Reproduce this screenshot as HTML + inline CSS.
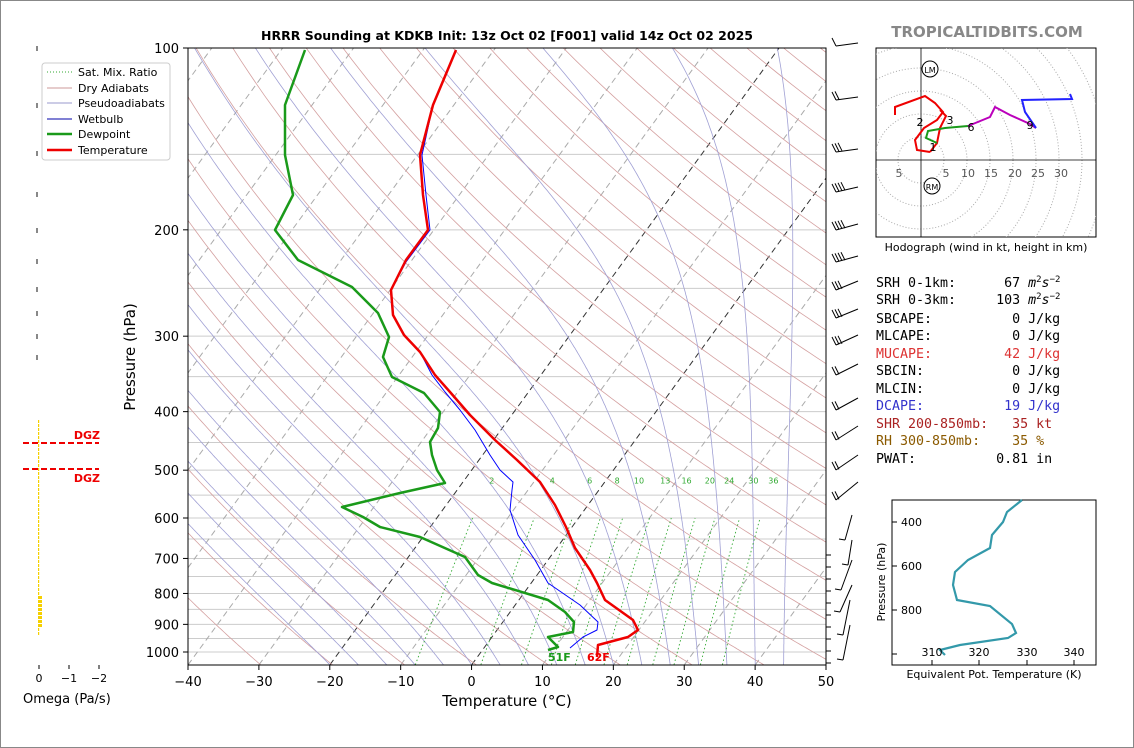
<!DOCTYPE html>
<html><head><meta charset="utf-8"><style>
body{margin:0;background:#fff;}
svg{display:block;font-family:"DejaVu Sans","Liberation Sans",sans-serif;}
.m text{white-space:pre;}
</style></head><body>
<svg id="s" width="1134" height="748" xmlns="http://www.w3.org/2000/svg" xml:space="preserve">
<rect x="0.5" y="0.5" width="1133" height="747" fill="#fff" stroke="#888"/>
<defs><clipPath id="c"><rect x="188" y="48" width="638" height="617"/></clipPath>
<clipPath id="h"><rect x="876" y="48" width="220" height="189"/></clipPath></defs>
<g id="bg" clip-path="url(#c)"></g>
<g id="fg" clip-path="url(#c)"></g>
<rect x="188" y="48" width="638" height="617" fill="none" stroke="#000"/>
<g id="ax" font-size="13"></g>
<text x="507" y="40" font-size="12.5" font-weight="bold" text-anchor="middle">HRRR Sounding at KDKB Init: 13z Oct 02 [F001] valid 14z Oct 02 2025</text>
<text x="507" y="706" font-size="15" text-anchor="middle">Temperature (°C)</text>
<text x="135" y="357" font-size="15" text-anchor="middle" transform="rotate(-90 135 357)">Pressure (hPa)</text>
<text x="548" y="661" font-size="11" fill="#1a9a1a" font-weight="bold">51F</text>
<text x="587" y="661" font-size="11" fill="#e00" font-weight="bold">62F</text>
<g font-size="11">
<rect x="42" y="63" width="128" height="97" fill="#fff" stroke="#ccc" rx="3"/>
<line x1="47" y1="72" x2="72" y2="72" stroke="#3a3" stroke-dasharray="1,2"/><text x="78" y="76">Sat. Mix. Ratio</text>
<line x1="47" y1="88" x2="72" y2="88" stroke="#c99"/><text x="78" y="92">Dry Adiabats</text>
<line x1="47" y1="103" x2="72" y2="103" stroke="#99c"/><text x="78" y="107">Pseudoadiabats</text>
<line x1="47" y1="119" x2="72" y2="119" stroke="#00a"/><text x="78" y="123">Wetbulb</text>
<line x1="47" y1="134" x2="72" y2="134" stroke="#1a9a1a" stroke-width="2.5"/><text x="78" y="138">Dewpoint</text>
<line x1="47" y1="150" x2="72" y2="150" stroke="#e00" stroke-width="2.5"/><text x="78" y="154">Temperature</text>
</g>
<g id="om"></g>
<line x1="23" y1="443" x2="99" y2="443" stroke="#e00" stroke-width="2" stroke-dasharray="6,3"/>
<line x1="23" y1="469" x2="99" y2="469" stroke="#e00" stroke-width="2" stroke-dasharray="6,3"/>
<text x="100" y="439" font-size="11" fill="#e00" font-weight="bold" text-anchor="end">DGZ</text>
<text x="100" y="482" font-size="11" fill="#e00" font-weight="bold" text-anchor="end">DGZ</text>
<g font-size="11" text-anchor="middle"><text x="39" y="682">0</text><text x="69" y="682">−1</text><text x="99" y="682">−2</text></g>
<line x1="39" y1="665" x2="39" y2="669" stroke="#000"/><line x1="69" y1="665" x2="69" y2="669" stroke="#000"/><line x1="99" y1="665" x2="99" y2="669" stroke="#000"/>
<text x="23" y="703" font-size="13">Omega (Pa/s)</text>
<text x="987" y="37" font-size="15" font-weight="bold" fill="#888" text-anchor="middle">TROPICALTIDBITS.COM</text>
<rect x="876" y="48" width="220" height="189" fill="#fff" stroke="#000"/>
<g id="hd" clip-path="url(#h)"></g>
<text x="986" y="251" font-size="11" text-anchor="middle">Hodograph (wind in kt, height in km)</text>
<g class="m" font-family="'DejaVu Sans Mono','Liberation Mono',monospace" font-size="13.3">
<text x="876" y="287">SRH 0-1km:      67 <tspan font-style="italic">m</tspan><tspan font-size="9" dy="-5">2</tspan><tspan dy="5" font-style="italic">s</tspan><tspan font-size="9" dy="-5">−2</tspan></text>
<text x="876" y="304">SRH 0-3km:     103 <tspan font-style="italic">m</tspan><tspan font-size="9" dy="-5">2</tspan><tspan dy="5" font-style="italic">s</tspan><tspan font-size="9" dy="-5">−2</tspan></text>
<text x="876" y="323">SBCAPE:          0 J/kg</text>
<text x="876" y="340">MLCAPE:          0 J/kg</text>
<text x="876" y="358" fill="#d33">MUCAPE:         42 J/kg</text>
<text x="876" y="375">SBCIN:           0 J/kg</text>
<text x="876" y="393">MLCIN:           0 J/kg</text>
<text x="876" y="410" fill="#33c">DCAPE:          19 J/kg</text>
<text x="876" y="428" fill="#a22">SHR 200-850mb:   35 kt</text>
<text x="876" y="445" fill="#8b5a00">RH 300-850mb:    35 %</text>
<text x="876" y="463">PWAT:          0.81 in</text>
</g>
<rect x="892" y="500" width="204" height="165" fill="#fff" stroke="#000"/>
<polyline fill="none" stroke="#3399aa" stroke-width="2.2" points="1022,500 1007,512 1003,522 992,535 990,548 968,560 955,572 953,585 957,600 990,606 1012,624 1016,633 1008,638 960,645 940,650 945,655"/>
<g font-size="11">
<text x="922" y="526" text-anchor="end">400</text><text x="922" y="570" text-anchor="end">600</text><text x="922" y="614" text-anchor="end">800</text>
<text x="932" y="656" text-anchor="middle">310</text><text x="979" y="656" text-anchor="middle">320</text><text x="1027" y="656" text-anchor="middle">330</text><text x="1074" y="656" text-anchor="middle">340</text>
<text x="994" y="678" text-anchor="middle">Equivalent Pot. Temperature (K)</text>
<text x="885" y="582" text-anchor="middle" transform="rotate(-90 885 582)">Pressure (hPa)</text>
</g>
<g stroke="#000"><line x1="892" y1="522" x2="897" y2="522"/><line x1="892" y1="566" x2="897" y2="566"/><line x1="892" y1="610" x2="897" y2="610"/><line x1="892" y1="654" x2="897" y2="654"/>
<line x1="932" y1="665" x2="932" y2="660"/><line x1="979" y1="665" x2="979" y2="660"/><line x1="1027" y1="665" x2="1027" y2="660"/><line x1="1074" y1="665" x2="1074" y2="660"/></g>
<g id="wb" stroke="#000" fill="none" stroke-width="1"></g>
</svg>
<script>
const NS="http://www.w3.org/2000/svg";
function el(p,t,a,txt){const e=document.createElementNS(NS,t);for(const k in a)e.setAttribute(k,a[k]);if(txt!==undefined)e.textContent=txt;p.appendChild(e);return e;}
const Y=p=>48+604*Math.log10(p/100);
const X=(T,p)=>188+(T+40)*7.089+0.728*(665-Y(p));
const bg=document.getElementById('bg'),fg=document.getElementById('fg'),ax=document.getElementById('ax');
const ps=[];for(let p=1050;p>=100;p-=5)ps.push(p);
function line(pts,a){el(bg,'polyline',Object.assign({fill:'none',points:pts.map(q=>q[0].toFixed(1)+','+q[1].toFixed(1)).join(' ')},a));}
[100,150,200,250,300,350,400,450,500,550,600,650,700,750,800,850,900,950,1000].forEach(p=>el(bg,'line',{x1:188,x2:826,y1:Y(p),y2:Y(p),stroke:'#ccc'}));
for(let T=-120;T<=50;T+=10){line([[X(T,1050),Y(1050)],[X(T,100),Y(100)]],{stroke:(T==0||T==-20)?'#333':'#aaa','stroke-dasharray':'6,4','stroke-width':1});}
for(let th=240;th<=520;th+=10){line(ps.map(p=>[X(th*Math.pow(p/1000,0.2857)-273.15,p),Y(p)]),{stroke:'#d4a0a0','stroke-width':0.8});}
function es(T){return 6.112*Math.exp(17.67*T/(T+243.5));}
function gam(T,p){const Tk=T+273.15,e=es(T),rs=0.622*e/(p-e),L=2.5e6,Rd=287,cp=1005;
return (Rd*Tk+L*rs)/(cp+L*L*rs*0.622/(Rd*Tk*Tk))/p;}
for(let T0=-20;T0<=44;T0+=4){let T=T0,pts=[];for(let p=1050;p>=100;p-=2){pts.push([X(T,p),Y(p)]);T-=gam(T,p)*2;}
line(pts,{stroke:'#a0a0d4','stroke-width':0.8});}
[2,4,6,8,10,13,16,20,24,30,36].forEach(w=>{const pts=[];for(let p=1050;p>=600;p-=10){const e=p*w/(622+w),l=Math.log(e/6.112),Td=243.5*l/(17.67-l);pts.push([X(Td,p),Y(p)]);}
line(pts,{stroke:'#3a3','stroke-dasharray':'1.5,2.5','stroke-width':0.9});
const e=500*w/(622+w),l=Math.log(e/6.112),Td=243.5*l/(17.67-l);el(bg,'text',{x:X(Td,500),y:Y(520)+3,'font-size':8,fill:'#3a3','text-anchor':'middle'},w);});
function pl(s,c,w){el(fg,'polyline',{fill:'none',stroke:c,'stroke-width':w,'stroke-linejoin':'round',points:s});}
pl("570,648 583,637 597,630 598,622 580,605 548,583 535,560 518,535 510,510 512,490 513,482 500,470 490,455 475,430 460,410 445,392 432,375 420,352 404,335 393,315 391,290 406,262 430,230 426,195 422,155 433,105 456,50",'#00f',1);
pl("548,650 558,647 548,637 573,632 574,622 565,612 548,600 492,583 478,575 465,557 420,537 380,527 363,517 342,507 400,493 445,483 437,470 432,455 430,442 438,428 440,412 424,393 392,377 383,357 389,337 378,313 352,287 298,260 275,230 293,195 285,155 285,105 305,50",'#1a9a1a',2.5);
pl("597,657 598,645 628,637 638,630 633,620 605,600 597,583 590,570 575,548 566,527 555,505 540,482 517,460 495,440 470,415 450,392 435,375 420,352 404,335 393,315 391,290 406,260 428,230 423,195 420,155 433,105 456,50",'#e00',2.5);
[100,200,300,400,500,600,700,800,900,1000].forEach(p=>{el(ax,'line',{x1:183,x2:188,y1:Y(p),y2:Y(p),stroke:'#000'});el(ax,'text',{x:179,y:Y(p)+5,'text-anchor':'end'},p);});
for(let T=-40;T<=50;T+=10){const x=188+(T+40)*7.089;el(ax,'line',{x1:x,x2:x,y1:665,y2:670,stroke:'#000'});el(ax,'text',{x:x,y:686,'text-anchor':'middle'},T<0?'−'+(-T):T);}
for(let y=555;y<=665;y+=12)el(ax,'line',{x1:826,x2:831,y1:y,y2:y,stroke:'#000'});
const wb=document.getElementById('wb');
const lv=[[46,1,0,-3],[100,2,0,0],[152,3,0,0],[192,4,-2,0],[230,4,-3,0],[262,4,-3,0],[290,3,-6,0],[318,3,-6,0],[345,3,-7,0],[375,2,-8,0],[410,2,-9,0],[440,2,-11,0],[470,2,-12,0],[500,2,-15,0]];
lv.forEach(([y,n,dy])=>{const x0=836,x1=858,y1=y+dy-3;
el(wb,'line',{x1:x0,y1:y,x2:x1,y2:y1});
for(let i=0;i<n;i++){const bx=x0+i*3,by=y-i*0.6;el(wb,'line',{x1:bx,y1:by,x2:bx-4,y2:by-8});}});
[[540,852,515,845],[565,852,540,848],[590,852,560,841],[612,852,585,840],[635,850,600,843],[660,850,625,843]].forEach(([y,x1,y1,bx])=>{el(wb,'line',{x1:bx,y1:y,x2:x1,y2:y1});el(wb,'line',{x1:bx,y1:y,x2:bx-6,y2:y-1});});
const om=document.getElementById('om');
[48,105,153,194,230,261,289,313,336,357].forEach(y=>el(om,'rect',{x:36,y:y-2,width:2,height:5,fill:'#888'}));
for(let y=420;y<=635;y+=4){const w=(y>595&&y<625)?4:1.2;el(om,'rect',{x:38,y:y,width:w,height:3,fill:'#f5d000'});}
const hd=document.getElementById('hd');const ox=921,oy=160;
for(let r=1;r<=8;r++)el(hd,'circle',{cx:ox,cy:oy,r:r*23,fill:'none',stroke:'#aaa','stroke-dasharray':'1,2'});
el(hd,'line',{x1:876,x2:1096,y1:oy,y2:oy,stroke:'#000','stroke-width':0.8});
el(hd,'line',{x1:ox,x2:ox,y1:48,y2:237,stroke:'#000','stroke-width':0.8});
[[899,'5'],[946,'5'],[968,'10'],[991,'15'],[1015,'20'],[1038,'25'],[1061,'30']].forEach(([x,t])=>el(hd,'text',{x:x,y:177,'font-size':11,fill:'#555','text-anchor':'middle'},t));
const hp=(s,c)=>el(hd,'polyline',{fill:'none',stroke:c,'stroke-width':2,points:s});
hp("930,152 917,150 915,140 924,128 937,120 943,112 935,103 925,96 895,107 895,115",'#e00');
hp("930,152 937,143 940,128 946,116 940,110",'#e00');
hp("937,143 926,138 928,131 945,128 968,126",'#1a9a1a');
hp("968,126 990,117 995,107 1010,115 1030,124 1036,128",'#b0b');
hp("1036,128 1025,112 1022,100 1072,99 1070,94",'#22f');
[[933,151,'1'],[920,126,'2'],[950,124,'3'],[971,131,'6'],[1030,129,'9']].forEach(([x,y,t])=>el(hd,'text',{x:x,y:y,'font-size':11,'text-anchor':'middle'},t));
el(hd,'circle',{cx:930,cy:69,r:8,fill:'#fff',stroke:'#000'});el(hd,'text',{x:930,y:73,'font-size':8,'text-anchor':'middle'},'LM');
el(hd,'circle',{cx:932,cy:186,r:8,fill:'#fff',stroke:'#000'});el(hd,'text',{x:932,y:190,'font-size':8,'text-anchor':'middle'},'RM');
</script>
</body></html>
